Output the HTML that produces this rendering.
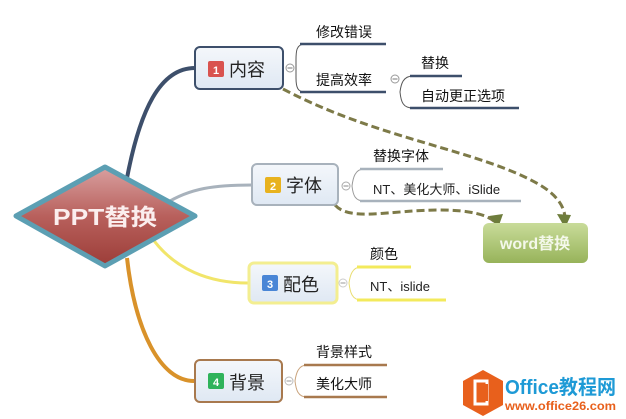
<!DOCTYPE html>
<html><head><meta charset="utf-8"><style>
html,body{margin:0;padding:0;background:#fff;}
svg{display:block;}
text{font-family:"Liberation Sans","Noto Sans CJK SC",sans-serif;}
</style></head><body>
<svg width="626" height="419" viewBox="0 0 626 419" xmlns="http://www.w3.org/2000/svg">
<defs>
<linearGradient id="dg" x1="0" y1="0" x2="0" y2="1"><stop offset="0" stop-color="#d9a0a0"/><stop offset="0.5" stop-color="#b8605c"/><stop offset="1" stop-color="#9c3d38"/></linearGradient>
<linearGradient id="bg" x1="0" y1="0" x2="0" y2="1"><stop offset="0" stop-color="#f4f7fb"/><stop offset="1" stop-color="#dfe8f3"/></linearGradient>
<linearGradient id="wg" x1="0" y1="0" x2="0" y2="1"><stop offset="0" stop-color="#c9dc9a"/><stop offset="1" stop-color="#97b35a"/></linearGradient>
</defs>
<path d="M127,178 C140,110 160,68 195,68" fill="none" stroke="#3d4f6b" stroke-width="4"/>
<path d="M165,204 C190,188 215,185 252,185" fill="none" stroke="#a8b2bc" stroke-width="3"/>
<path d="M152,238 C175,270 210,283 248,283" fill="none" stroke="#f1e56a" stroke-width="3"/>
<path d="M127,258 C135,330 160,381 194,381" fill="none" stroke="#d9922a" stroke-width="4"/>
<path d="M283,89 C380,140 480,150 540,185 C560,197 566,210 565,222" fill="none" stroke="#7d7a48" stroke-width="3" stroke-dasharray="8,4"/>
<polygon points="565,228 557,214 571,215" fill="#6e7d3c"/>
<path d="M335,205 C350,222 390,210 440,210 C470,210 488,215 495,222" fill="none" stroke="#7d7a48" stroke-width="3" stroke-dasharray="8,4"/>
<polygon points="498,228 489,216 503,214" fill="#6e7d3c"/>
<polygon points="16,216 105,167 195,216 105,266" fill="url(#dg)" stroke="#5c9fb3" stroke-width="5" stroke-linejoin="round"/>
<text x="53" y="225" textLength="104" lengthAdjust="spacingAndGlyphs" font-size="23" font-weight="bold" fill="#fbeeee">PPT替换</text>
<rect x="195" y="47" width="88" height="42" rx="5" fill="url(#bg)" stroke="#3d4f6b" stroke-width="2"/>
<rect x="208" y="61" width="16" height="16" rx="2" fill="#d9534f"/><text x="216" y="74" text-anchor="middle" font-size="11" font-weight="bold" fill="#fff">1</text>
<text x="229" y="76" font-size="18" fill="#222">内容</text>
<circle cx="290" cy="68" r="4" fill="#fff" stroke="#999"/><line x1="287.5" y1="68" x2="292.5" y2="68" stroke="#777"/>
<path d="M305,44 C296,44 296,52 296,60 L296,78 C296,88 298,92 305,92" fill="none" stroke="#555" stroke-width="1"/>
<line x1="300" y1="44" x2="386" y2="44" stroke="#3d4f6b" stroke-width="2.5"/>
<line x1="300" y1="92" x2="386" y2="92" stroke="#3d4f6b" stroke-width="2.5"/>
<text x="316" y="37" font-size="14" fill="#111">修改错误</text>
<text x="316" y="85" font-size="14" fill="#111">提高效率</text>
<circle cx="395" cy="79" r="4" fill="#fff" stroke="#999"/><line x1="392.5" y1="79" x2="397.5" y2="79" stroke="#777"/>
<path d="M413,76 C403,76 401,84 400,92 C401,102 403,108 413,108" fill="none" stroke="#555" stroke-width="1"/>
<line x1="410" y1="76" x2="462" y2="76" stroke="#3d4f6b" stroke-width="2.5"/>
<line x1="410" y1="108" x2="519" y2="108" stroke="#3d4f6b" stroke-width="2.5"/>
<text x="421" y="68" font-size="14" fill="#111">替换</text>
<text x="421" y="101" font-size="14" fill="#111">自动更正选项</text>
<rect x="252" y="164" width="86" height="41" rx="5" fill="url(#bg)" stroke="#a8b2bc" stroke-width="2"/>
<rect x="265" y="177" width="16" height="16" rx="2" fill="#e8b21e"/><text x="273" y="190" text-anchor="middle" font-size="11" font-weight="bold" fill="#fff">2</text>
<text x="286" y="192" font-size="18" fill="#222">字体</text>
<circle cx="346" cy="186" r="4" fill="#fff" stroke="#aaa"/><line x1="343.5" y1="186" x2="348.5" y2="186" stroke="#888"/>
<path d="M364,169 C355,169 353,178 352,186 C353,195 355,201 364,201" fill="none" stroke="#999" stroke-width="1"/>
<line x1="360" y1="169" x2="443" y2="169" stroke="#a8b2bc" stroke-width="2.5"/>
<line x1="360" y1="201" x2="521" y2="201" stroke="#a8b2bc" stroke-width="2.5"/>
<text x="373" y="161" font-size="14" fill="#111">替换字体</text>
<text x="373" y="194" font-size="13" fill="#222">NT、美化大师、iSlide</text>
<rect x="483" y="223" width="105" height="40" rx="6" fill="url(#wg)"/>
<text x="535" y="249" text-anchor="middle" font-size="16" font-weight="bold" fill="#f4f8ea">word替换</text>
<rect x="249" y="263" width="88" height="40" rx="5" fill="url(#bg)" stroke="#f3ee90" stroke-width="3"/>
<rect x="262" y="275" width="16" height="16" rx="2" fill="#4a86d6"/><text x="270" y="288" text-anchor="middle" font-size="11" font-weight="bold" fill="#fff">3</text>
<text x="283" y="291" font-size="18" fill="#222">配色</text>
<circle cx="343" cy="283" r="4" fill="#fff" stroke="#ccc"/><line x1="340.5" y1="283" x2="345.5" y2="283" stroke="#999"/>
<path d="M361,267 C352,267 350,276 349,283 C350,292 352,300 361,300" fill="none" stroke="#e9dd70" stroke-width="1"/>
<line x1="357" y1="267" x2="411" y2="267" stroke="#f3ea5c" stroke-width="3"/>
<line x1="357" y1="300" x2="446" y2="300" stroke="#f3ea5c" stroke-width="3"/>
<text x="370" y="259" font-size="14" fill="#111">颜色</text>
<text x="370" y="291" font-size="13" fill="#222">NT、islide</text>
<rect x="195" y="360" width="87" height="42" rx="5" fill="url(#bg)" stroke="#a8794e" stroke-width="2"/>
<rect x="208" y="373" width="16" height="16" rx="2" fill="#2fb35b"/><text x="216" y="386" text-anchor="middle" font-size="11" font-weight="bold" fill="#fff">4</text>
<text x="229" y="389" font-size="18" fill="#222">背景</text>
<circle cx="289" cy="381" r="4" fill="#fff" stroke="#bbb"/><line x1="286.5" y1="381" x2="291.5" y2="381" stroke="#999"/>
<path d="M307,365 C298,365 296,374 295,381 C296,390 298,397 307,397" fill="none" stroke="#c9a27a" stroke-width="1"/>
<line x1="304" y1="365" x2="387" y2="365" stroke="#a8794e" stroke-width="2.5"/>
<line x1="304" y1="397" x2="387" y2="397" stroke="#a8794e" stroke-width="2.5"/>
<text x="316" y="357" font-size="14" fill="#111">背景样式</text>
<text x="316" y="389" font-size="14" fill="#111">美化大师</text>
<polygon points="483,370 503,381 503,405 483,416 463,405 463,381" fill="#e8601c"/>
<rect x="475" y="381" width="12" height="23" fill="none" stroke="#fff" stroke-width="3"/>
<rect x="481" y="384" width="7" height="17" fill="#e8601c"/>
<text x="505" y="394" textLength="111" lengthAdjust="spacingAndGlyphs" font-size="20" font-weight="bold" fill="#1e9ad6">Office教程网</text>
<text x="505" y="410" textLength="111" lengthAdjust="spacingAndGlyphs" font-size="12" font-weight="bold" fill="#e8601c">www.office26.com</text>
</svg>
</body></html>
